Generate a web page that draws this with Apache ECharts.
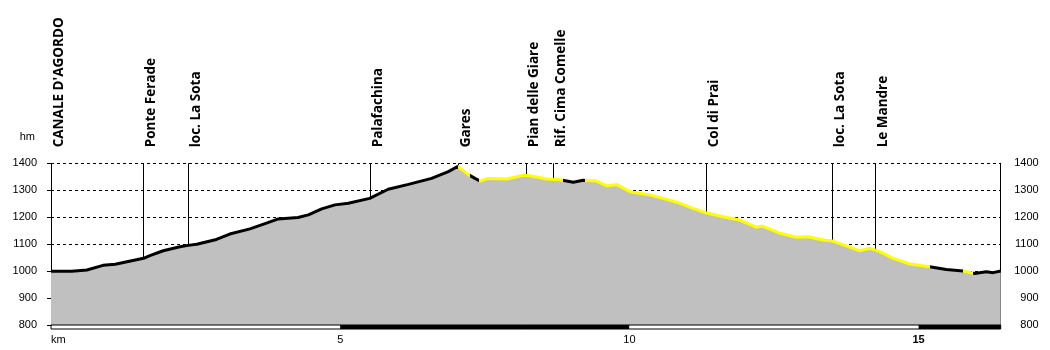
<!DOCTYPE html>
<html>
<head>
<meta charset="utf-8">
<script src="https://cdn.jsdelivr.net/npm/echarts@6/dist/echarts.min.js"></script>
<style>
html,body{margin:0;padding:0;background:#fff;}
#chart{width:1050px;height:350px;}
</style>
</head>
<body>
<div id="chart"></div>
<script>
// Profile: distance (km) and elevation (m)
const distKm = [0, 0.36, 0.62, 0.90, 1.11, 1.60, 1.71, 1.94, 2.23, 2.37, 2.52, 2.86, 3.09, 3.44, 3.75, 3.93, 4.27, 4.45, 4.68, 4.91, 5.14, 5.51, 5.83, 6.18, 6.58, 6.87, 7.03, 7.21, 7.33, 7.42, 7.56, 7.88, 8.17, 8.28, 8.57, 8.80, 9.03, 9.20, 9.43, 9.61, 9.78, 10.01, 10.35, 10.58, 10.82, 11.10, 11.32, 11.62, 11.91, 12.20, 12.29, 12.60, 12.89, 13.09, 13.35, 13.50, 13.75, 13.98, 14.16, 14.33, 14.56, 14.85, 15.19, 15.48, 15.77, 15.97, 16.17, 16.29, 16.42];
const elevM = [1000, 1000, 1005, 1022, 1026, 1048, 1058, 1076, 1091, 1096, 1100, 1118, 1138, 1157, 1180, 1194, 1199, 1209, 1231, 1246, 1252, 1270, 1304, 1322, 1344, 1369, 1388, 1359, 1344, 1334, 1344, 1342, 1356, 1354, 1342, 1339, 1330, 1337, 1334, 1316, 1321, 1295, 1283, 1270, 1256, 1233, 1217, 1202, 1190, 1163, 1168, 1141, 1126, 1128, 1116, 1113, 1094, 1076, 1085, 1073, 1048, 1027, 1017, 1007, 1001, 992, 998, 995, 1001];

// Stretches of the track drawn in yellow [fromKm, toKm]
const yellowFrom = [7.03, 7.40, 9.23, 15.77];
const yellowTo   = [7.25, 8.86, 15.19, 15.94];

// Waypoints
const placeNames = ["CANALE D'AGORDO", "Ponte Ferade", "loc. La Sota", "Palafachina", "Gares", "Pian delle Giare", "Rif. Cima Comelle", "Col di Prai", "loc. La Sota", "Le Mandre"];
const placeKm    = [0, 1.596, 2.373, 5.52, 7.04, 8.22, 8.68, 11.32, 13.50, 14.25];
const placeElev  = [1000, 1048, 1096, 1270, 1388, 1355, 1340, 1217, 1113, 1079];

// Axes
const kmMax = 16.42;
const elevMin = 800, elevMax = 1400, elevStep = 100;
const kmStep = 5;

const profile = distKm.map((k, i) => [k, elevM[i]]);
const places = placeKm.map((k, i) => [k, placeElev[i], placeNames[i]]);

const pieces = [];
yellowFrom.forEach((f, i) => pieces.push({gte: f, lt: yellowTo[i], color: '#ffff00'}));

const tickFont = {fontFamily: 'Liberation Sans, Arial, sans-serif', fontSize: 11, color: '#000'};

const chart = echarts.init(document.getElementById('chart'), null, {renderer: 'canvas'});
chart.setOption({
  animation: false,
  backgroundColor: '#ffffff',
  grid: [
    {left: 51, right: 49.3, top: 163.3, bottom: 24.7},
    {left: 51, right: 49.3, top: 325, height: 4, show: true, borderColor: '#000', borderWidth: 1, backgroundColor: 'transparent', z: 10}
  ],
  xAxis: [
    {gridIndex: 0, type: 'value', min: 0, max: kmMax, show: false},
    {gridIndex: 1, type: 'value', min: 0, max: kmMax, interval: kmStep,
     axisLine: {show: false}, axisTick: {show: false}, splitLine: {show: false},
     splitArea: {show: true, areaStyle: {color: ['#ffffff', '#000000'], opacity: 1}},
     axisLabel: Object.assign({}, tickFont, {
       margin: 5, showMaxLabel: false, alignMinLabel: 'left',
       formatter: v => v === 0 ? 'km' : (v % kmStep === 0 ? (v === 15 ? '{b|' + v + '}' : String(v)) : ''),
       rich: {b: {fontWeight: 'bold', fontSize: 11, fontFamily: 'Liberation Sans, Arial, sans-serif', color: '#000'}}
     })}
  ],
  yAxis: [
    {gridIndex: 0, type: 'value', min: elevMin, max: elevMax, interval: elevStep, position: 'left',
     name: 'hm', nameLocation: 'end', nameGap: 21,
     nameTextStyle: Object.assign({}, tickFont, {align: 'right', padding: [0, 16, 0, 0]}),
     axisLine: {show: true, lineStyle: {color: '#000', width: 1}},
     axisTick: {show: true, length: 4, lineStyle: {color: '#000'}},
     axisLabel: Object.assign({}, tickFont, {margin: 14, formatter: v => String(v)}),
     splitLine: {show: true, lineStyle: {color: '#000', width: 1, type: [3, 3]}}},
    {gridIndex: 0, type: 'value', min: elevMin, max: elevMax, interval: elevStep, position: 'right',
     axisLine: {show: true, lineStyle: {color: '#000', width: 1}},
     axisTick: {show: false},
     axisLabel: Object.assign({}, tickFont, {margin: 38, align: 'right', formatter: v => String(v)}),
     splitLine: {show: false}},
    {gridIndex: 1, type: 'value', min: 0, max: 1, show: false}
  ],
  visualMap: {
    show: false, type: 'piecewise', dimension: 0, seriesIndex: 2,
    pieces: pieces, outOfRange: {color: '#000000'}
  },
  series: [
    {type: 'line', xAxisIndex: 0, yAxisIndex: 0, data: profile, symbol: 'none',
     lineStyle: {width: 0, opacity: 0}, areaStyle: {color: '#c0c0c0', opacity: 1, origin: 'start'}, z: 1, silent: true},
    {type: 'custom', xAxisIndex: 0, yAxisIndex: 0, data: places, clip: false, z: 2, silent: true,
     renderItem: function (params, api) {
       const k = api.value(0), e = api.value(1);
       const name = places[params.dataIndex][2];
       const top = api.coord([k, elevMax]);
       const bot = api.coord([k, e]);
       const x = Math.round(top[0]) + 0.5;
       return {type: 'group', children: [
         {type: 'line', shape: {x1: x, y1: top[1], x2: x, y2: bot[1]}, style: {stroke: '#000', lineWidth: 1}},
         {type: 'text', x: Math.round(top[0]) + 1, y: top[1] - 16, rotation: Math.PI / 2,
          style: {text: name, font: 'bold 13.5px "Open Sans", sans-serif', fill: '#000', align: 'left', verticalAlign: 'top'}}
       ]};
     }},
    {type: 'line', xAxisIndex: 0, yAxisIndex: 0, data: profile, symbol: 'none',
     lineStyle: {width: 3}, z: 3, silent: true}
  ]
});
</script>
</body>
</html>
